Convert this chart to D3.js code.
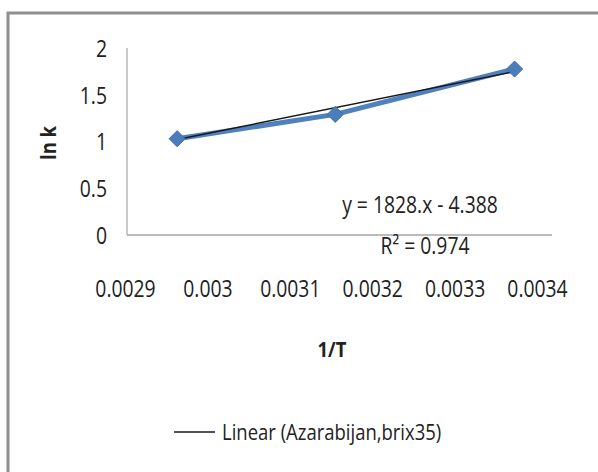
<!DOCTYPE html>
<html><head><meta charset="utf-8">
<script src="https://cdn.jsdelivr.net/npm/d3@7"></script>
<style>
html,body{margin:0;padding:0;background:#fff;}
text{font-family:"Open Sans","Liberation Sans",sans-serif;fill:#222;}
</style></head>
<body>
<svg id="c" width="598" height="472"></svg>
<script>
// data
const invT = [0.002959, 0.003145, 0.003356];
const lnK = [1.03, 1.29, 1.775];
const xTicks = [0.0029, 0.003, 0.0031, 0.0032, 0.0033, 0.0034];
const xTickLabels = ["0.0029", "0.003", "0.0031", "0.0032", "0.0033", "0.0034"];
const yTicks = [0, 0.5, 1, 1.5, 2];
const yTickLabels = ["0", "0.5", "1", "1.5", "2"];
const trendSlope = 1828, trendIntercept = -4.388;
const eqText = "y = 1828.x - 4.388";
const r2Text = "R\u00B2 = 0.974";
const legendLabel = "Linear (Azarabijan,brix35)";

const svg = d3.select("#c");
// outer frame
svg.append("rect").attr("x", 8).attr("y", 13).attr("width", 620).attr("height", 500)
  .attr("fill", "#fff").attr("stroke", "#8f8f8f").attr("stroke-width", 3);

const x = d3.scaleLinear().domain([0.0029, 0.0034]).range([127, 552]);
const xLab = d3.scaleLinear().domain([0.0029, 0.0034]).range([125, 537]);
const y = d3.scaleLinear().domain([0, 2]).range([235, 48]);

// axes lines
svg.append("line").attr("x1", x(0.0029)).attr("x2", x(0.0029)).attr("y1", y(2)).attr("y2", y(0))
  .attr("stroke", "#a6a6a6").attr("stroke-width", 1.2);
svg.append("line").attr("x1", x(0.0029)).attr("x2", x(0.0034)).attr("y1", y(0)).attr("y2", y(0))
  .attr("stroke", "#a6a6a6").attr("stroke-width", 1.5);

// y tick labels
const yAxis = d3.axisLeft(y).tickValues(yTicks).tickSize(0).tickPadding(0)
  .tickFormat((d, i) => yTickLabels[i]);
const gy = svg.append("g").attr("transform", "translate(107,0)").call(yAxis);
gy.select(".domain").remove();
gy.selectAll("text").style("font-size", "23px").attr("fill", "#222").attr("dy", "0.36em")
  .style("font-family", '"Open Sans",sans-serif');

// x tick labels
const xAxis = d3.axisBottom(xLab).tickValues(xTicks).tickSize(0).tickPadding(0)
  .tickFormat((d, i) => xTickLabels[i]);
const gx = svg.append("g").attr("transform", "translate(0,297)").call(xAxis);
gx.select(".domain").remove();
gx.selectAll("text").style("font-size", "23px").attr("fill", "#222").attr("dy", "0").attr("y", 0)
  .style("font-family", '"Open Sans",sans-serif');

// axis titles
svg.append("text").attr("transform", "translate(56,143) rotate(-90)").attr("text-anchor", "middle")
  .style("font-size", "22px").style("font-weight", "bold").text("ln k");
svg.append("text").attr("x", 332).attr("y", 357).attr("text-anchor", "middle")
  .style("font-size", "22px").style("font-weight", "bold").text("1/T");

// series line
const pts = invT.map((v, i) => [v, lnK[i]]);
svg.append("path").datum(pts)
  .attr("d", d3.line().x(d => x(d[0])).y(d => y(d[1])))
  .attr("fill", "none").attr("stroke", "#4f81bd").attr("stroke-width", 5).attr("stroke-linejoin", "round");

// trendline
const tx = [d3.min(invT), d3.max(invT)];
svg.append("line")
  .attr("x1", x(tx[0])).attr("y1", y(trendSlope * tx[0] + trendIntercept))
  .attr("x2", x(tx[1])).attr("y2", y(trendSlope * tx[1] + trendIntercept))
  .attr("stroke", "#1a1a1a").attr("stroke-width", 1.5);

// markers
svg.selectAll("path.mk").data(pts).enter().append("path").attr("class", "mk")
  .attr("d", d3.symbol(d3.symbolDiamond2, 165)())
  .attr("transform", d => `translate(${x(d[0])},${y(d[1])})`)
  .attr("fill", "#4a7ebb").attr("stroke", "#3f6fa8").attr("stroke-width", 1);

// equation
svg.append("text").attr("x", 420).attr("y", 213).attr("text-anchor", "middle")
  .style("font-size", "23px").text(eqText);
svg.append("text").attr("x", 425).attr("y", 254).attr("text-anchor", "middle")
  .style("font-size", "23px").text(r2Text);

// legend
svg.append("line").attr("x1", 174).attr("x2", 215).attr("y1", 432).attr("y2", 432)
  .attr("stroke", "#1a1a1a").attr("stroke-width", 1.5);
svg.append("text").attr("x", 222).attr("y", 440).style("font-size", "22px").text(legendLabel);

// condense text horizontally (reference uses a narrow font)
svg.selectAll("text").each(function() {
  const w = this.getComputedTextLength();
  d3.select(this).attr("textLength", (w * 0.84).toFixed(1)).attr("lengthAdjust", "spacingAndGlyphs");
});
</script>
</body></html>
